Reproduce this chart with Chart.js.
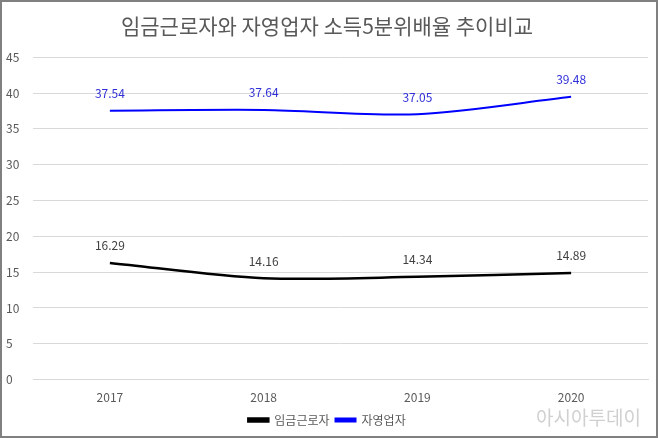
<!DOCTYPE html>
<html>
<head>
<meta charset="utf-8">
<script src="https://cdn.jsdelivr.net/npm/chart.js@4/dist/chart.umd.min.js"></script>
<style>
  html, body { margin: 0; padding: 0; background: #fff; }
  #wrap { position: relative; width: 658px; height: 438px; box-sizing: border-box; border: 2px solid #808080; }
</style>
</head>
<body>
<div id="wrap"><canvas id="myChart"></canvas></div>
<script>
var years = ["2017", "2018", "2019", "2020"];
var wageWorkers = [16.29, 14.16, 14.34, 14.89];
var selfEmployed = [37.54, 37.64, 37.05, 39.48];
var seriesNames = ["임금근로자", "자영업자"];
var titleText = "임금근로자와 자영업자 소득5분위배율 추이비교";

var FONT = '"Noto Sans CJK KR", "Noto Sans", sans-serif';

// point labels above each point
var pointLabels = {
    id: 'pointLabels',
    afterDatasetsDraw: function (chart) {
        var ctx = chart.ctx;
        var colors = ['#404040', '#3030d8'];
        chart.data.datasets.forEach(function (ds, i) {
            var meta = chart.getDatasetMeta(i);
            ctx.save();
            ctx.font = '12px ' + FONT;
            ctx.fillStyle = colors[i];
            ctx.textAlign = 'center';
            ctx.textBaseline = 'middle';
            meta.data.forEach(function (pt, j) {
                ctx.fillText(ds.data[j].toFixed(2), pt.x, pt.y - 17);
            });
            ctx.restore();
        });
    }
};

// watermark
var watermark = {
    id: 'watermark',
    afterDraw: function (chart) {
        var ctx = chart.ctx;
        ctx.save();
        ctx.font = '19px ' + FONT;
        ctx.fillStyle = 'rgba(150,150,150,0.45)';
        ctx.textAlign = 'left';
        ctx.textBaseline = 'middle';
        ctx.fillText('아시아투데이', 534, 416);
        ctx.restore();
    }
};

new Chart(document.getElementById("myChart"), {
    type: 'line',
    data: {
        labels: years,
        datasets: [{
            label: seriesNames[0],
            data: wageWorkers,
            borderColor: '#000000',
            backgroundColor: '#000000',
            borderWidth: 2.5,
            pointRadius: 0,
            tension: 0.3
        }, {
            label: seriesNames[1],
            data: selfEmployed,
            borderColor: '#0000ff',
            backgroundColor: '#0000ff',
            borderWidth: 2,
            pointRadius: 0,
            tension: 0.3
        }]
    },
    options: {
        responsive: true,
        maintainAspectRatio: false,
        animation: false,
        layout: { padding: { left: 4, right: 8, top: 4, bottom: 0 } },
        plugins: {
            title: {
                display: true,
                text: titleText,
                color: '#595959',
                font: { family: FONT, size: 21, weight: 'normal' },
                padding: { top: 7, bottom: 19 }
            },
            legend: {
                position: 'bottom',
                labels: {
                    color: '#595959',
                    font: { family: FONT, size: 12 },
                    boxWidth: 20,
                    boxHeight: 3,
                    padding: 6
                }
            },
            tooltip: { enabled: false }
        },
        scales: {
            x: {
                offset: true,
                grid: { display: false },
                border: { color: '#d9d9d9' },
                ticks: { color: '#595959', font: { family: FONT, size: 12 }, padding: 3 }
            },
            y: {
                min: 0,
                max: 45,
                ticks: {
                    stepSize: 5,
                    color: '#595959',
                    font: { family: FONT, size: 12 },
                    crossAlign: 'far',
                    padding: 10
                },
                grid: { color: '#d9d9d9', drawTicks: false },
                border: { display: false },
                afterFit: function (scale) { scale.width = 27; }
            }
        }
    },
    plugins: [pointLabels, watermark]
});
</script>
</body>
</html>
